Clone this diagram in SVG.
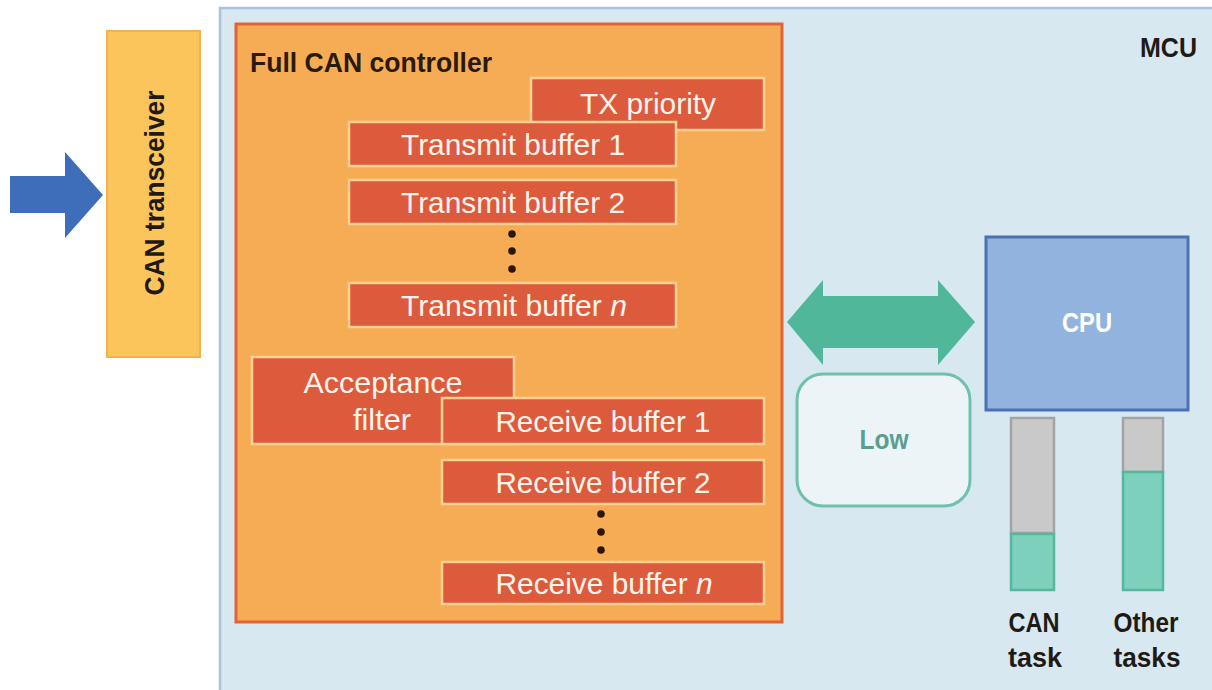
<svg xmlns="http://www.w3.org/2000/svg" width="1212" height="690" viewBox="0 0 1212 690">
  <defs>
    <style>
      .mcu { fill: #d7e8f1; stroke: #a9c3dc; stroke-width: 2.5; }
      .ctrl { fill: #f6ac54; stroke: #e0643a; stroke-width: 3; }
      .xcvr { fill: #fcc55c; stroke: #f2b14c; stroke-width: 2; }
      .buf { fill: #dd5b3d; stroke: #fcd092; stroke-width: 2.5; }
      .wlabel { font-family: "Liberation Sans Narrow", "Liberation Sans", Arial, sans-serif; font-size: 30px; fill: #fff4ec; text-anchor: middle; }
      .blabel { font-family: "Liberation Sans Narrow", "Liberation Sans", Arial, sans-serif; font-size: 28px; font-weight: bold; fill: #1f1a16; }
      .dot { fill: #2a1608; }
      .bar-idle { fill: #c9c9c9; stroke: #a3a3a3; stroke-width: 2.5; }
      .bar-load { fill: #7dd0bb; stroke: #55b79c; stroke-width: 2.5; }
    </style>
  </defs>

  <rect width="1212" height="690" fill="#ffffff"/>

  <!-- MCU enclosure -->
  <g id="mcu">
    <rect class="mcu" x="220" y="8" width="1000" height="688"/>
    <text class="blabel" x="1140" y="57" font-size="26" textLength="57" lengthAdjust="spacingAndGlyphs">MCU</text>
  </g>

  <!-- Bus input arrow and CPU link -->
  <g id="connectors">
    <path id="bus-arrow" d="M10,176 H65 V152 L103,195 L65,238 V213 H10 Z" fill="#3e6eb9"/>
    <path id="cpu-link" d="M787,322 L823,280 V296 H938 V280 L975,322 L938,365 V348 H823 V365 Z" fill="#50b79b"/>
  </g>

  <g id="can-transceiver">
    <rect class="xcvr" x="107" y="31" width="93" height="326"/>
    <text class="blabel" transform="translate(164,193) rotate(-90)" text-anchor="middle" textLength="205" lengthAdjust="spacingAndGlyphs">CAN transceiver</text>
  </g>

  <!-- Full CAN controller -->
  <g id="full-can-controller">
    <rect class="ctrl" x="236" y="24" width="546" height="598"/>
    <text class="blabel" x="250" y="72" style="fill:#2a1a0e" textLength="242" lengthAdjust="spacingAndGlyphs">Full CAN controller</text>
  </g>

  <g id="tx-priority">
    <rect class="buf" x="531" y="78" width="233" height="52"/>
    <text class="wlabel" x="648" y="114" textLength="136" lengthAdjust="spacingAndGlyphs">TX priority</text>
  </g>

  <g id="transmit-buffer-1">
    <rect class="buf" x="349" y="122" width="327" height="44"/>
    <text class="wlabel" x="513" y="155" textLength="224" lengthAdjust="spacingAndGlyphs">Transmit buffer 1</text>
  </g>

  <g id="transmit-buffer-2">
    <rect class="buf" x="349" y="180" width="327" height="44"/>
    <text class="wlabel" x="513" y="213" textLength="224" lengthAdjust="spacingAndGlyphs">Transmit buffer 2</text>
  </g>

  <g id="transmit-ellipsis">
    <circle class="dot" cx="512" cy="234" r="3.8"/>
    <circle class="dot" cx="512" cy="251" r="3.8"/>
    <circle class="dot" cx="512" cy="269" r="3.8"/>
  </g>

  <g id="transmit-buffer-n">
    <rect class="buf" x="349" y="283" width="327" height="44"/>
    <text class="wlabel" x="514" y="316" textLength="226" lengthAdjust="spacingAndGlyphs">Transmit buffer <tspan font-style="italic">n</tspan></text>
  </g>

  <g id="acceptance-filter">
    <rect class="buf" x="252" y="357" width="262" height="87"/>
    <text class="wlabel" x="383" y="393" textLength="159" lengthAdjust="spacingAndGlyphs">Acceptance</text>
    <text class="wlabel" x="382" y="430" textLength="58" lengthAdjust="spacingAndGlyphs">filter</text>
  </g>

  <g id="receive-buffer-1">
    <rect class="buf" x="442" y="398" width="322" height="46"/>
    <text class="wlabel" x="603" y="432" textLength="215" lengthAdjust="spacingAndGlyphs">Receive buffer 1</text>
  </g>

  <g id="receive-buffer-2">
    <rect class="buf" x="442" y="460" width="322" height="44"/>
    <text class="wlabel" x="603" y="493" textLength="215" lengthAdjust="spacingAndGlyphs">Receive buffer 2</text>
  </g>

  <g id="receive-ellipsis">
    <circle class="dot" cx="601" cy="514" r="3.8"/>
    <circle class="dot" cx="601" cy="532" r="3.8"/>
    <circle class="dot" cx="601" cy="550" r="3.8"/>
  </g>

  <g id="receive-buffer-n">
    <rect class="buf" x="442" y="562" width="322" height="42"/>
    <text class="wlabel" x="604" y="594" textLength="217" lengthAdjust="spacingAndGlyphs">Receive buffer <tspan font-style="italic">n</tspan></text>
  </g>

  <!-- Interrupt load indicator -->
  <g id="load-low">
    <rect x="797" y="374" width="173" height="132" rx="26" ry="26" fill="#edf4f7" stroke="#6fc1ab" stroke-width="3"/>
    <text class="blabel" x="884" y="449" text-anchor="middle" font-size="26" style="fill:#5a9e91" textLength="49" lengthAdjust="spacingAndGlyphs">Low</text>
  </g>

  <!-- CPU -->
  <g id="cpu">
    <rect x="986" y="237" width="202" height="173" fill="#93b3df" stroke="#4a71b3" stroke-width="3"/>
    <text class="blabel" x="1087" y="332" text-anchor="middle" font-size="26" style="fill:#ffffff" textLength="50" lengthAdjust="spacingAndGlyphs">CPU</text>
  </g>

  <!-- CPU share bars -->
  <g id="can-task">
    <rect class="bar-idle" x="1011" y="418" width="43" height="115"/>
    <rect class="bar-load" x="1011" y="534" width="43" height="56"/>
    <text class="blabel" x="1034" y="632" text-anchor="middle" textLength="51" lengthAdjust="spacingAndGlyphs">CAN</text>
    <text class="blabel" x="1035" y="667" text-anchor="middle" textLength="54" lengthAdjust="spacingAndGlyphs">task</text>
  </g>

  <g id="other-tasks">
    <rect class="bar-idle" x="1123" y="418" width="40" height="54"/>
    <rect class="bar-load" x="1123" y="472" width="40" height="118"/>
    <text class="blabel" x="1146" y="632" text-anchor="middle" textLength="65" lengthAdjust="spacingAndGlyphs">Other</text>
    <text class="blabel" x="1147" y="667" text-anchor="middle" textLength="67" lengthAdjust="spacingAndGlyphs">tasks</text>
  </g>
</svg>
